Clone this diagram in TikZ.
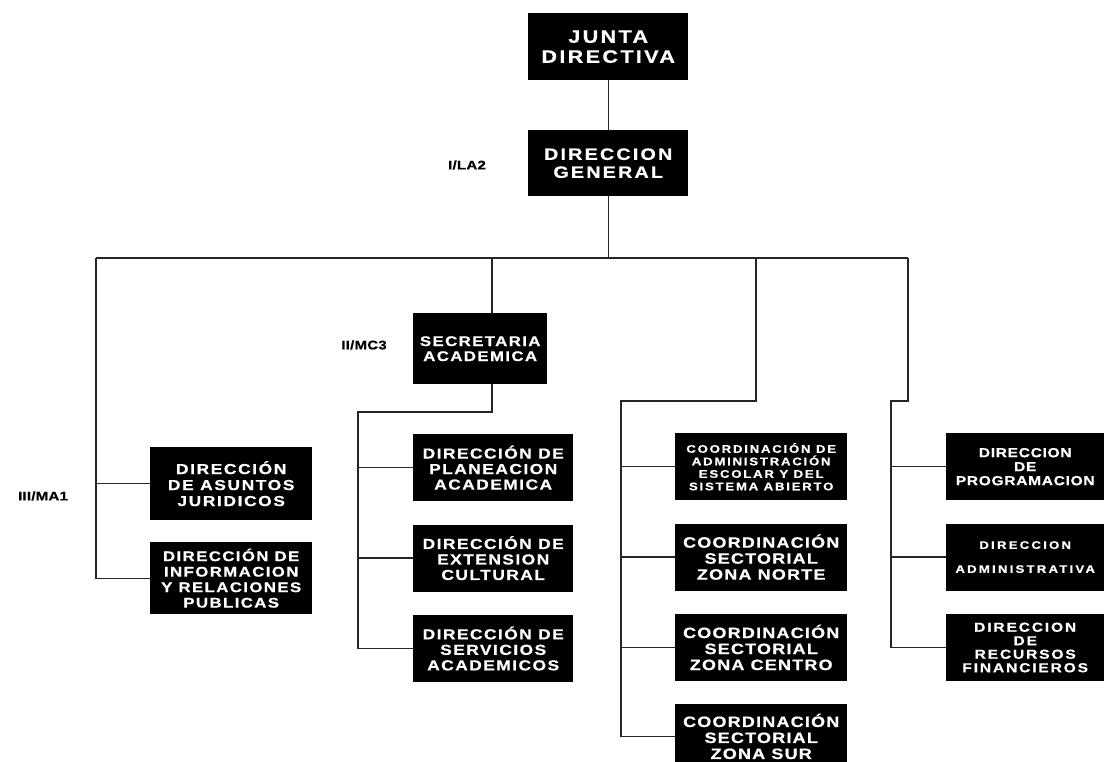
\documentclass[tikz,border=0pt]{standalone}
\usepackage{fontspec}
\usepackage{tikz}
\usetikzlibrary{positioning}
\newfontfamily\orgfont{Liberation Sans}[FakeStretch=1.2, LetterSpace=10, BoldFeatures={FakeBold=0.6}]
\definecolor{cLine}{HTML}{262626}
\tikzset{
  orgbox/.style={fill=black, text=white, align=center, inner sep=2pt,
                 minimum width=#1, minimum height=67pt},
  sz/.style n args={3}{font=\orgfont\bfseries\fontsize{#1}{#2}\selectfont\addfontfeature{LetterSpace=#3}},
  conn/.style={line width=1.4pt, draw=cLine},
  lvl/.style={text=black, sz={12.5}{14}{2}},
}

\begin{document}
\begin{tikzpicture}[x=1pt, y=-1pt, node distance=23pt]
  \clip (0,0) rectangle (1105,762);
  \fill[white] (0,0) rectangle (1105,762);
  \node[orgbox=160pt, sz={18}{20}{13}, anchor=north west] (jd) at (528,13) {JUNTA\\DIRECTIVA};
  \node[orgbox=160pt, minimum height=66pt, sz={16.5}{18}{13}, anchor=north west] (dg) at (528,130) {DIRECCION\\GENERAL};
  \node[orgbox=134pt, minimum height=71pt, sz={14}{15}{10}, anchor=north west] (sec) at (413,313) {SECRETARIA\\ACADEMICA};
  \node[orgbox=162pt, minimum height=73pt, sz={14.5}{16}{11}, anchor=north west] (asu) at (150,447) {DIRECCIÓN\\DE ASUNTOS\\JURIDICOS};
  \node[orgbox=162pt, minimum height=72pt, sz={14}{15.5}{10}, anchor=north west] (inf) at (150,542) {DIRECCIÓN DE\\INFORMACION\\Y RELACIONES\\PUBLICAS};
  \node[orgbox=160pt, sz={14.5}{15.5}{10}, anchor=north west] (pla) at (413,434) {DIRECCIÓN DE\\PLANEACION\\ACADEMICA};
  \node[orgbox=160pt, sz={14.5}{15.5}{10}, below=of pla] (ext) {DIRECCIÓN DE\\EXTENSION\\CULTURAL};
  \node[orgbox=160pt, sz={14.5}{15.5}{10}, below=of ext] (ser) {DIRECCIÓN DE\\SERVICIOS\\ACADEMICOS};
  \node[orgbox=172pt, sz={11}{12.5}{16}, anchor=north west] (adm) at (675,433) {COORDINACIÓN DE\\ADMINISTRACIÓN\\ESCOLAR Y DEL\\SISTEMA ABIERTO};
  \node[orgbox=172pt, sz={15}{16}{8}, below=of adm] (nor) {COORDINACIÓN\\SECTORIAL\\ZONA NORTE};
  \node[orgbox=172pt, sz={15}{16}{8}, below=of nor] (cen) {COORDINACIÓN\\SECTORIAL\\ZONA CENTRO};
  \node[orgbox=172pt, minimum height=64pt, sz={15}{16}{8}, below=of cen] (sur) {COORDINACIÓN\\SECTORIAL\\ZONA SUR};
  \node[orgbox=158pt, sz={13}{14}{5}, anchor=north west] (pro) at (946,433) {DIRECCION\\DE\\PROGRAMACION};
  \node[orgbox=158pt, sz={11}{24}{20}, below=of pro] (adf) {DIRECCION\\ADMINISTRATIVA};
  \node[orgbox=158pt, sz={13}{13.5}{14}, below=of adf] (rec) {DIRECCION\\DE\\RECURSOS\\FINANCIEROS};
  \node[lvl] (lvlI) at (467,165) {I/LA2};
  \node[lvl] (lvlII) at (364,345) {II/MC3};
  \node[lvl] (lvlIII) at (43,496) {III/MA1};
  \coordinate (busL) at (96,258);
  \coordinate (busR) at (908,258);
  \coordinate (secT) at (492,258);
  \coordinate (secB) at (492,412);
  \coordinate (colB) at (358,412);
  \coordinate (c3T) at (756,258);
  \coordinate (c3B) at (756,401);
  \coordinate (colC) at (621,401);
  \coordinate (c4B) at (908,401);
  \coordinate (colD) at (891,401);
  \draw[conn] (jd) -- (dg);
  \draw[conn] (dg) -- (dg |- busL);
  \draw[conn] (busL) -- (busR);
  \draw[conn] (busL) |- (asu.west);
  \draw[conn] (busL) |- (inf.west);
  \draw[conn] (secT) -- (secT |- sec.north);
  \draw[conn] (secT |- sec.south) -- (secB) -- (colB) |- (ser.west);
  \foreach \n in {pla,ext} \draw[conn] (colB) |- (\n.west);
  \draw[conn] (c3T) -- (c3B) -- (colC) |- (sur.west);
  \foreach \n in {adm,nor,cen} \draw[conn] (colC) |- (\n.west);
  \draw[conn] (busR) -- (c4B) -- (colD) |- (rec.west);
  \foreach \n in {pro,adf} \draw[conn] (colD) |- (\n.west);
\end{tikzpicture}
\end{document}
